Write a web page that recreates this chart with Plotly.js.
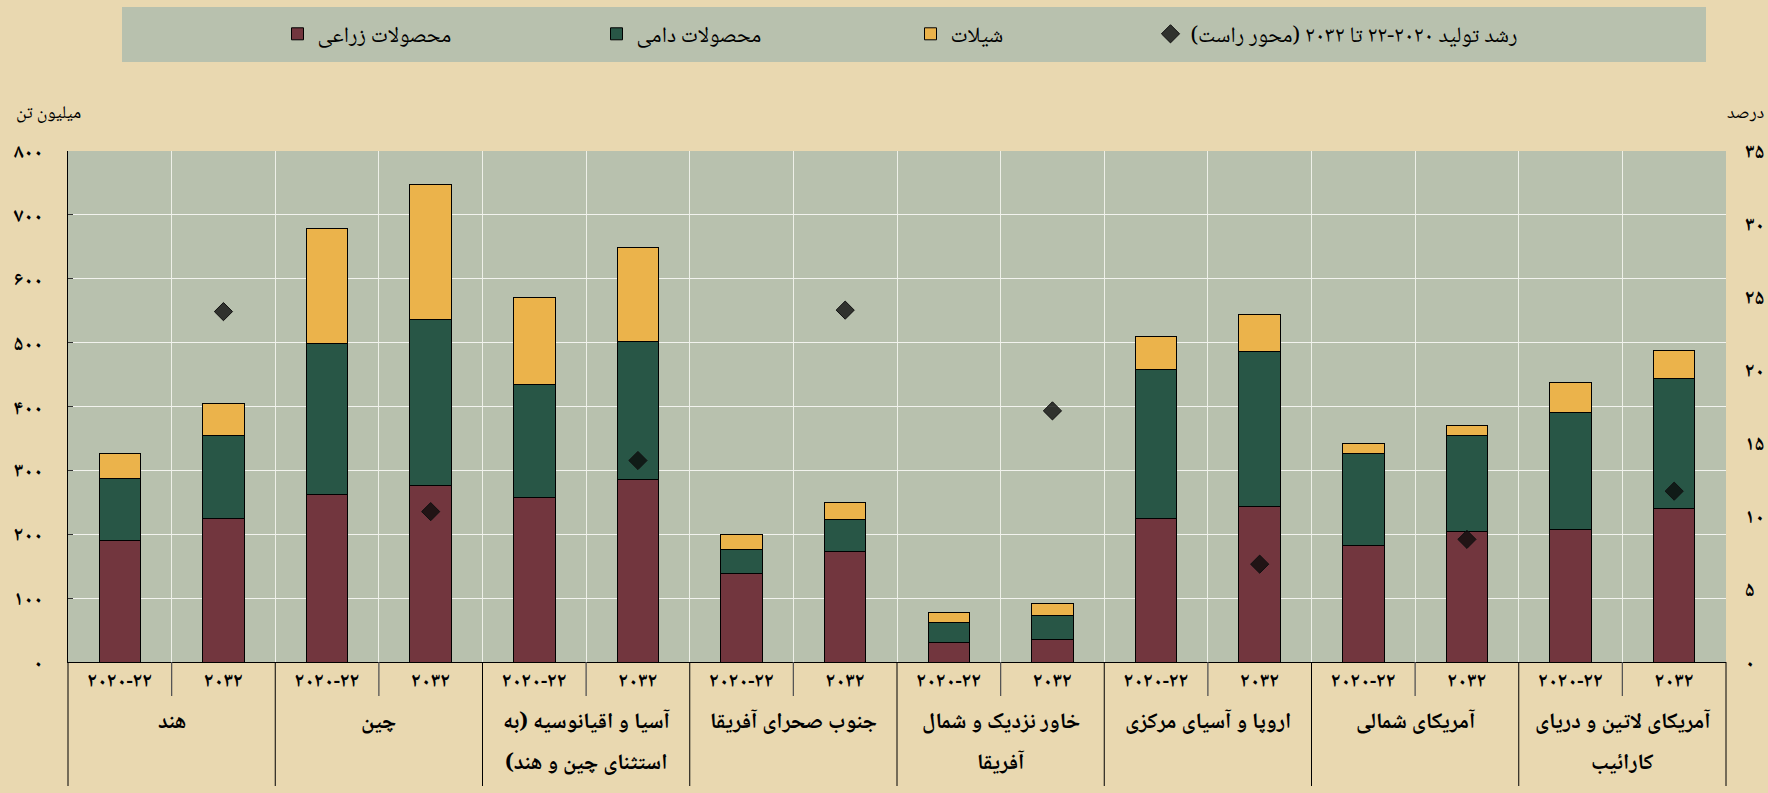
<!DOCTYPE html>
<html>
<head>
<meta charset="utf-8">
<script src="https://cdn.plot.ly/plotly-3.0.1.min.js"></script>
<style>html,body{margin:0;padding:0;background:#e9d8b0;}</style>
</head>
<body>
<div id="chart" style="width:1768px;height:793px;"></div>
<script>
// ---- data ----
const regions = [
  'هند',
  'چین',
  'آسیا و اقیانوسیه (به<br>استثنای چین و هند)',
  'جنوب صحرای آفریقا',
  'خاور نزدیک و شمال<br>آفریقا',
  'اروپا و آسیای مرکزی',
  'آمریکای شمالی',
  'آمریکای لاتین و دریای<br>کارائیب'
];
const periods = ['۲۰۲۰-۲۲', '۲۰۳۲'];
const crops     = [190, 225, 262, 277, 257, 286, 138, 173, 31, 35, 224, 243, 182, 204, 207, 241];
const livestock = [ 97, 130, 236, 259, 178, 216,  38,  50, 31, 38, 234, 243, 144, 151, 183, 203];
const fish      = [ 40,  50, 180, 211, 136, 147,  24,  26, 16, 19,  52,  58,  16,  16,  47,  44];
const growth    = [24.0, 10.3, 13.8, 24.1, 17.2, 6.7, 8.4, 11.7];
const seriesNames = ['محصولات زراعی', 'محصولات دامی', 'شیلات', 'رشد تولید ۲۰۲۰-۲۲ تا ۲۰۳۲ (محور راست)'];
const leftTickVals = [0, 100, 200, 300, 400, 500, 600, 700, 800];
const leftTickText = ['۰', '۱۰۰', '۲۰۰', '۳۰۰', '۴۰۰', '۵۰۰', '۶۰۰', '۷۰۰', '۸۰۰'];
const rightTickVals = [0, 5, 10, 15, 20, 25, 30, 35];
const rightTickText = ['۰', '۵', '۱۰', '۱۵', '۲۰', '۲۵', '۳۰', '۳۵'];
const leftTitle = 'میلیون تن';
const rightTitle = 'درصد';

// ---- build ----
const RLM = '\u200F';
const rtl = s => RLM + s + RLM;
const catIds = [];
const catText = [];
regions.forEach((r, i) => periods.forEach((p, j) => { catIds.push('c' + i + '_' + j); catText.push(p); }));
const growthIds = regions.map((r, i) => 'c' + i + '_1');

const barLine = {color: '#000000', width: 1};
const traces = [
  {type: 'bar', name: rtl(seriesNames[0]), legend: 'legend', x: catIds, y: crops, marker: {color: '#72363e', line: barLine}},
  {type: 'bar', name: rtl(seriesNames[1]), legend: 'legend2', x: catIds, y: livestock, marker: {color: '#285646', line: barLine}},
  {type: 'bar', name: rtl(seriesNames[2]), legend: 'legend3', x: catIds, y: fish, marker: {color: '#ebb34b', line: barLine}},
  {type: 'scatter', mode: 'markers', name: rtl(seriesNames[3]), legend: 'legend4', x: growthIds, y: growth, yaxis: 'y2',
   marker: {symbol: 'diamond', size: 14, color: 'rgba(10,10,10,0.78)', line: {color: '#111', width: 1}}}
];

const nCat = catIds.length;
const plotH = 793 - 151 - 131;
const pxY = py => (662 - py) / plotH;
const pxX = px => (px - 68) / 1658;
const FONT = 'Noto Naskh Arabic, Noto Sans Arabic, DejaVu Sans, sans-serif';

const shapes = [
  {type: 'rect', xref: 'paper', yref: 'paper', x0: pxX(122), x1: pxX(1706),
   y0: pxY(62), y1: pxY(7), fillcolor: '#b8c1ae', line: {width: 0}, layer: 'below'}
];
for (let i = 0; i <= regions.length; i++) {
  shapes.push({type: 'line', xref: 'paper', yref: 'paper', x0: 2 * i / nCat, x1: 2 * i / nCat,
    y0: 0, y1: pxY(786), line: {color: '#000', width: 1}});
}
for (let i = 0; i < regions.length; i++) {
  shapes.push({type: 'line', xref: 'paper', yref: 'paper', x0: (2 * i + 1) / nCat, x1: (2 * i + 1) / nCat,
    y0: 0, y1: pxY(696), line: {color: '#555', width: 1.3}});
}

const annotations = [
  {xref: 'paper', yref: 'paper', x: pxX(48), y: pxY(114), text: rtl(leftTitle), showarrow: false,
   xanchor: 'center', yanchor: 'middle', font: {family: FONT, size: 18, color: '#000'}},
  {xref: 'paper', yref: 'paper', x: pxX(1745), y: pxY(114), text: rtl(rightTitle), showarrow: false,
   xanchor: 'center', yanchor: 'middle', font: {family: FONT, size: 18, color: '#000'}}
];
regions.forEach((r, i) => {
  const lines = r.split('<br>');
  lines.forEach((ln, k) => {
    annotations.push({xref: 'paper', yref: 'paper', x: (2 * i + 1) / nCat, y: pxY(k === 0 ? 723 : 764),
      text: rtl(ln), showarrow: false, xanchor: 'center', yanchor: 'middle',
      font: {family: FONT, size: 22, color: '#000', weight: 'bold'}});
  });
});

const legendBase = px => ({orientation: 'h', x: pxX(px - 19.5), xanchor: 'left', y: pxY(34), yanchor: 'middle',
  bgcolor: 'rgba(0,0,0,0)', font: {family: FONT, size: 22, color: '#000'}});

const layout = {
  width: 1768, height: 793,
  margin: {l: 68, r: 42, t: 151, b: 131},
  paper_bgcolor: '#e9d8b0',
  plot_bgcolor: '#b8c1ae',
  barmode: 'stack',
  bargap: 0.6,
  showlegend: true,
  legend: legendBase(297),
  legend2: legendBase(616),
  legend3: legendBase(930),
  legend4: legendBase(1170),
  xaxis: {type: 'category', categoryorder: 'array', categoryarray: catIds, range: [-0.5, nCat - 0.5],
    tickmode: 'array', tickvals: catIds, ticktext: catText, tickson: 'boundaries', ticks: '',
    showgrid: true, gridcolor: '#eef0e8', gridwidth: 1,
    showline: true, linecolor: '#000', linewidth: 1,
    tickfont: {family: FONT, size: 20, color: '#000', weight: 'bold'}},
  yaxis: {range: [0, 800], tickmode: 'array', tickvals: leftTickVals, ticktext: leftTickText,
    showgrid: true, gridcolor: '#f2f3ee', gridwidth: 1, zeroline: false,
    showline: true, linecolor: '#000', linewidth: 1, ticks: 'inside', ticklen: 5, tickcolor: '#333',
    ticklabelstandoff: 20, tickfont: {family: FONT, size: 20, color: '#000', weight: 'bold'}},
  yaxis2: {range: [0, 35], overlaying: 'y', side: 'right', tickmode: 'array', tickvals: rightTickVals,
    ticktext: rightTickText, showgrid: false, zeroline: false, showline: false, ticks: '',
    ticklabelstandoff: 18, tickfont: {family: FONT, size: 20, color: '#000', weight: 'bold'}},
  shapes: shapes,
  annotations: annotations
};

Plotly.newPlot('chart', traces, layout, {displayModeBar: false, responsive: false});
</script>
</body>
</html>
